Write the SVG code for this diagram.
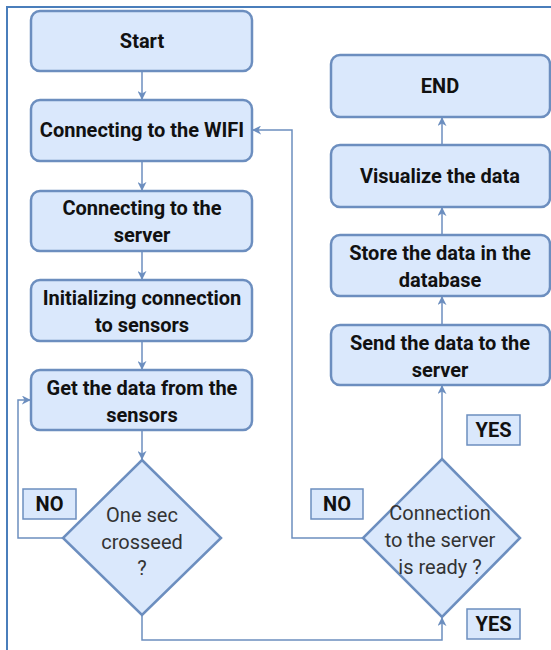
<svg xmlns="http://www.w3.org/2000/svg" width="551" height="650" viewBox="0 0 551 650">
<defs>
<style>
.box{fill:#dae8fc;stroke:#6c8ebf;stroke-width:2.5}
.lbl{fill:#dae8fc;stroke:#6c8ebf;stroke-width:1.5}
.t{font-family:Roboto,"Liberation Sans",Arial,sans-serif;font-size:20px;font-weight:bold;fill:#111;text-anchor:middle}
.d{font-family:Roboto,"Liberation Sans",Arial,sans-serif;font-size:20px;fill:#333;text-anchor:middle}
.c{fill:none;stroke:#6c8ebf;stroke-width:1.5}
</style>
<marker id="ah" viewBox="0 0 10 10" refX="9" refY="5" markerWidth="9" markerHeight="9" markerUnits="userSpaceOnUse" orient="auto">
<path d="M0,0 L10,5 L0,10 L3,5 Z" fill="#6c8ebf"/>
</marker>
</defs>
<rect width="551" height="650" fill="#fff"/>
<path d="M7,650 V7 H551" fill="none" stroke="#4a7ebb" stroke-width="2"/>

<g id="connectors">
<path class="c" d="M142,71 V99" marker-end="url(#ah)"/>
<path class="c" d="M142,161 V190" marker-end="url(#ah)"/>
<path class="c" d="M142,251 V279" marker-end="url(#ah)"/>
<path class="c" d="M142,341 V369" marker-end="url(#ah)"/>
<path class="c" d="M142,430 V459" marker-end="url(#ah)"/>
<path class="c" d="M63,538 H18 V400 H30" marker-end="url(#ah)"/>
<path class="c" d="M142,615 V640 H442 V618" marker-end="url(#ah)"/>
<path class="c" d="M363,538 H292 V130 H253" marker-end="url(#ah)"/>
<path class="c" d="M442,459 V386" marker-end="url(#ah)"/>
<path class="c" d="M442,325 V297" marker-end="url(#ah)"/>
<path class="c" d="M442,235 V208" marker-end="url(#ah)"/>
<path class="c" d="M442,145 V118" marker-end="url(#ah)"/>
</g>

<g id="start"><rect class="box" x="31" y="11" width="221" height="60" rx="9"/><text class="t" x="142" y="48">Start</text></g>
<g id="wifi"><rect class="box" x="31" y="100" width="221" height="61" rx="9"/><text class="t" x="142" y="137">Connecting to the WIFI</text></g>
<g id="server"><rect class="box" x="31" y="191" width="221" height="60" rx="9"/><text class="t" x="142" y="215">Connecting to the</text><text class="t" x="142" y="242">server</text></g>
<g id="init"><rect class="box" x="31" y="280" width="221" height="61" rx="9"/><text class="t" x="142" y="305">Initializing connection</text><text class="t" x="142" y="332">to sensors</text></g>
<g id="getdata"><rect class="box" x="31" y="370" width="221" height="60" rx="9"/><text class="t" x="142" y="395">Get the data from the</text><text class="t" x="142" y="422">sensors</text></g>
<g id="dec1"><path class="box" d="M142,460 L221,538 L142,615 L63,538 Z"/><text class="d" x="142" y="522">One sec</text><text class="d" x="142" y="549">crosseed</text><text class="d" x="142" y="575">?</text></g>
<g id="no1"><rect class="lbl" x="23" y="489" width="53" height="30"/><text class="t" x="49.5" y="511">NO</text></g>

<g id="end"><rect class="box" x="331" y="55" width="219" height="62" rx="9"/><text class="t" x="440" y="93">END</text></g>
<g id="visualize"><rect class="box" x="331" y="145" width="219" height="62" rx="9"/><text class="t" x="440" y="183">Visualize the data</text></g>
<g id="store"><rect class="box" x="331" y="235" width="219" height="61" rx="9"/><text class="t" x="440" y="260">Store the data in the</text><text class="t" x="440" y="287">database</text></g>
<g id="send"><rect class="box" x="331" y="325" width="219" height="60" rx="9"/><text class="t" x="440" y="350">Send the data to the</text><text class="t" x="440" y="377">server</text></g>
<g id="dec2"><path class="box" d="M442,459 L520,538 L442,617 L363,538 Z"/><text class="d" x="440" y="520">Connection</text><text class="d" x="440" y="547">to the server</text><text class="d" x="440" y="574">is ready ?</text></g>
<g id="no2"><rect class="lbl" x="311" y="489" width="52" height="30"/><text class="t" x="337" y="511">NO</text></g>
<g id="yes1"><rect class="lbl" x="467" y="415" width="53" height="30"/><text class="t" x="493.5" y="437">YES</text></g>
<g id="yes2"><rect class="lbl" x="467" y="609" width="53" height="30"/><text class="t" x="493.5" y="631">YES</text></g>
</svg>
